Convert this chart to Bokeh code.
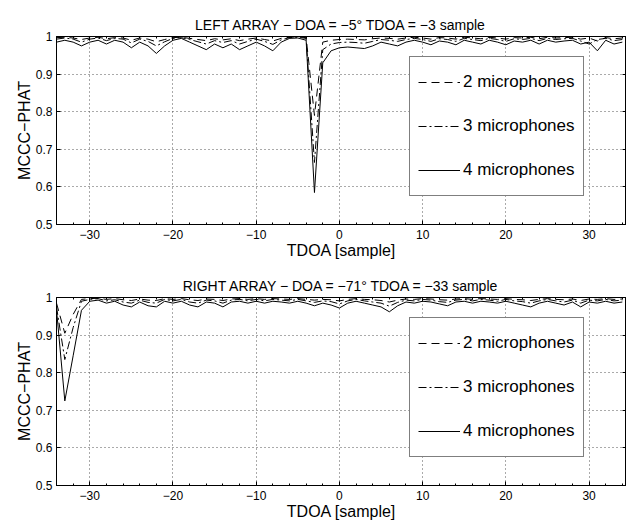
from bokeh.plotting import figure
from bokeh.layouts import column
from bokeh.models import (Range1d, FixedTicker, LinearAxis, Legend, LegendItem,
                          CustomJSTickFormatter)
from bokeh.embed import file_html
from bokeh.resources import INLINE

# ---------------- data ----------------
tdoa = list(range(-34, 35))

left_title = "LEFT ARRAY \u2212 DOA = \u22125\u00b0 TDOA = \u22123 sample"
right_title = "RIGHT ARRAY \u2212 DOA = \u221271\u00b0 TDOA = \u221233 sample"
series_names = ["2 microphones", "3 microphones", "4 microphones"]

left_2mic = [0.997, 0.998, 0.996, 0.992, 0.996, 0.998, 0.994, 0.997, 0.996, 0.990,
             0.996, 0.993, 0.986, 0.992, 0.997, 0.998, 0.995, 0.992, 0.989, 0.994,
             0.991, 0.994, 0.989, 0.993, 0.996, 0.992, 0.988, 0.995, 0.998, 0.999,
             0.997, 0.790, 0.985, 0.990, 0.992, 0.993, 0.992, 0.991, 0.994, 0.996,
             0.995, 0.993, 0.996, 0.998, 0.996, 0.993, 0.997, 0.996, 0.993, 0.998,
             0.996, 0.994, 0.998, 0.996, 0.993, 0.997, 0.996, 0.998, 0.994, 0.998,
             0.996, 0.997, 0.998, 0.993, 0.996, 0.988, 0.997, 0.994, 0.996]
left_3mic = [0.993, 0.996, 0.993, 0.985, 0.993, 0.996, 0.989, 0.995, 0.993, 0.983,
             0.993, 0.987, 0.975, 0.986, 0.995, 0.997, 0.992, 0.986, 0.980, 0.989,
             0.984, 0.989, 0.980, 0.987, 0.993, 0.987, 0.979, 0.991, 0.997, 0.998,
             0.995, 0.665, 0.965, 0.980, 0.984, 0.985, 0.984, 0.982, 0.987, 0.992,
             0.990, 0.987, 0.992, 0.995, 0.992, 0.987, 0.994, 0.992, 0.987, 0.995,
             0.992, 0.989, 0.995, 0.992, 0.987, 0.994, 0.992, 0.995, 0.989, 0.995,
             0.992, 0.994, 0.995, 0.988, 0.980, 0.992, 0.995, 0.989, 0.992]
left_4mic = [0.985, 0.990, 0.985, 0.975, 0.985, 0.990, 0.980, 0.990, 0.985, 0.970,
             0.985, 0.975, 0.955, 0.975, 0.990, 0.995, 0.985, 0.975, 0.965, 0.980,
             0.970, 0.980, 0.965, 0.975, 0.985, 0.975, 0.962, 0.985, 0.995, 0.996,
             0.990, 0.585, 0.930, 0.962, 0.970, 0.972, 0.970, 0.968, 0.975, 0.985,
             0.980, 0.975, 0.985, 0.990, 0.985, 0.978, 0.988, 0.985, 0.978, 0.990,
             0.985, 0.980, 0.990, 0.985, 0.978, 0.988, 0.985, 0.990, 0.980, 0.990,
             0.985, 0.988, 0.990, 0.980, 0.985, 0.962, 0.990, 0.980, 0.985]

right_2mic = [0.985, 0.905, 0.955, 0.995, 0.997, 0.998, 0.995, 0.997, 0.994, 0.992,
              0.996, 0.993, 0.992, 0.997, 0.995, 0.997, 0.994, 0.992, 0.996, 0.995,
              0.992, 0.996, 0.997, 0.995, 0.997, 0.995, 0.997, 0.996, 0.995, 0.997,
              0.995, 0.993, 0.995, 0.994, 0.991, 0.995, 0.997, 0.995, 0.994, 0.992,
              0.988, 0.993, 0.996, 0.995, 0.997, 0.996, 0.994, 0.993, 0.996, 0.997,
              0.995, 0.997, 0.996, 0.995, 0.997, 0.995, 0.994, 0.992, 0.995, 0.997,
              0.995, 0.994, 0.996, 0.992, 0.996, 0.995, 0.997, 0.995, 0.996]
right_3mic = [0.975, 0.835, 0.920, 0.990, 0.995, 0.997, 0.991, 0.994, 0.988, 0.985,
              0.993, 0.987, 0.985, 0.995, 0.991, 0.995, 0.988, 0.985, 0.993, 0.991,
              0.985, 0.993, 0.995, 0.991, 0.995, 0.991, 0.995, 0.993, 0.991, 0.995,
              0.991, 0.987, 0.991, 0.989, 0.983, 0.991, 0.995, 0.991, 0.988, 0.985,
              0.977, 0.987, 0.993, 0.991, 0.995, 0.993, 0.989, 0.987, 0.993, 0.995,
              0.991, 0.995, 0.993, 0.990, 0.995, 0.991, 0.989, 0.985, 0.991, 0.995,
              0.991, 0.988, 0.993, 0.985, 0.993, 0.991, 0.995, 0.991, 0.993]
right_4mic = [0.968, 0.725, 0.845, 0.966, 0.990, 0.993, 0.985, 0.990, 0.980, 0.975,
              0.988, 0.978, 0.975, 0.990, 0.985, 0.990, 0.980, 0.975, 0.988, 0.985,
              0.975, 0.988, 0.990, 0.985, 0.990, 0.985, 0.990, 0.988, 0.985, 0.990,
              0.985, 0.978, 0.985, 0.980, 0.972, 0.985, 0.990, 0.985, 0.980, 0.975,
              0.962, 0.978, 0.988, 0.985, 0.990, 0.988, 0.983, 0.978, 0.988, 0.990,
              0.985, 0.990, 0.988, 0.985, 0.990, 0.985, 0.980, 0.975, 0.985, 0.990,
              0.985, 0.980, 0.988, 0.975, 0.988, 0.985, 0.990, 0.985, 0.988]

x_major = [-30, -20, -10, 0, 10, 20, 30]
x_minor = list(range(-34, 35, 2))
y_major = [0.5, 0.6, 0.7, 0.8, 0.9, 1.0]

FONT = "Liberation Sans"
dashes = ["8 5", "8 3 2 3", "solid"]


def make_panel(title, ys, height, top_border):
    p = figure(width=626, height=height, output_backend="svg", toolbar_location=None,
               x_range=Range1d(-34, 34.5), y_range=Range1d(0.5, 1.0),
               min_border_left=56, min_border_right=0, min_border_top=top_border,
               min_border_bottom=38, x_axis_label="TDOA [sample]",
               y_axis_label="MCCC\u2212PHAT")
    p.title.text = title
    p.title.text_font = FONT
    p.title.text_font_style = "normal"
    p.title.text_font_size = "14px"
    p.title.text_color = "black"
    p.title.align = "center"
    p.title.standoff = 8
    p.title.offset = 0
    p.outline_line_color = "black"
    p.outline_line_width = 1
    p.background_fill_color = "white"
    p.border_fill_color = "white"

    xt = FixedTicker(ticks=x_major, minor_ticks=x_minor)
    yt = FixedTicker(ticks=y_major, minor_ticks=[])
    xfmt = CustomJSTickFormatter(code="return tick < 0 ? '\u2212' + Math.abs(tick) : String(tick);")
    yfmt = CustomJSTickFormatter(code="return tick > 0.999 ? '1' : tick.toFixed(1);")

    for ax, t, f, sto in ((p.xaxis[0], xt, xfmt, 5), (p.yaxis[0], yt, yfmt, 4)):
        ax.ticker = t
        ax.formatter = f
        ax.major_tick_in = 4
        ax.major_tick_out = 0
        ax.minor_tick_in = 2
        ax.minor_tick_out = 0
        ax.axis_line_color = "black"
        ax.major_tick_line_color = "black"
        ax.minor_tick_line_color = "black"
        ax.major_label_text_font = FONT
        ax.major_label_text_font_size = "12px"
        ax.major_label_text_color = "black"
        ax.major_label_standoff = sto
        ax.axis_label_text_font = FONT
        ax.axis_label_text_font_size = "16px"
        ax.axis_label_text_font_style = "normal"
        ax.axis_label_text_color = "black"
        ax.axis_label_standoff = 0

    for loc, t in (("above", xt), ("right", yt)):
        a = LinearAxis(ticker=t, major_label_text_font_size="1px",
                       major_label_text_color=None, major_label_standoff=0,
                       axis_line_color=None, major_tick_in=4, major_tick_out=0,
                       minor_tick_in=2, minor_tick_out=0,
                       major_tick_line_color="black", minor_tick_line_color="black")
        p.add_layout(a, loc)

    p.xgrid.ticker = xt
    p.ygrid.ticker = yt
    for g in (p.xgrid, p.ygrid):
        g.grid_line_color = "#555555"
        g.grid_line_dash = "1 3"
        g.grid_line_width = 1

    items = []
    for name, y, d in zip(series_names, ys, dashes):
        r = p.line(tdoa, y, line_color="black", line_width=1, line_dash=d)
        items.append(LegendItem(label=name, renderers=[r]))

    leg = Legend(items=items, location=(353, 28))
    leg.label_text_font = FONT
    leg.label_text_font_size = "17px"
    leg.label_text_color = "black"
    leg.glyph_width = 42
    leg.glyph_height = 34
    leg.label_height = 34
    leg.label_standoff = 3
    leg.spacing = 10
    leg.padding = 8
    leg.margin = 0
    leg.border_line_color = "black"
    leg.border_line_width = 1
    leg.background_fill_color = "white"
    leg.background_fill_alpha = 1
    p.add_layout(leg, "center")
    return p


p1 = make_panel(left_title, [left_2mic, left_3mic, left_4mic], 262, 36)
p2 = make_panel(right_title, [right_2mic, right_3mic, right_4mic], 261, 35)
p = column(p1, p2, spacing=0)

open("out.html", "w").write(file_html(p, INLINE))
